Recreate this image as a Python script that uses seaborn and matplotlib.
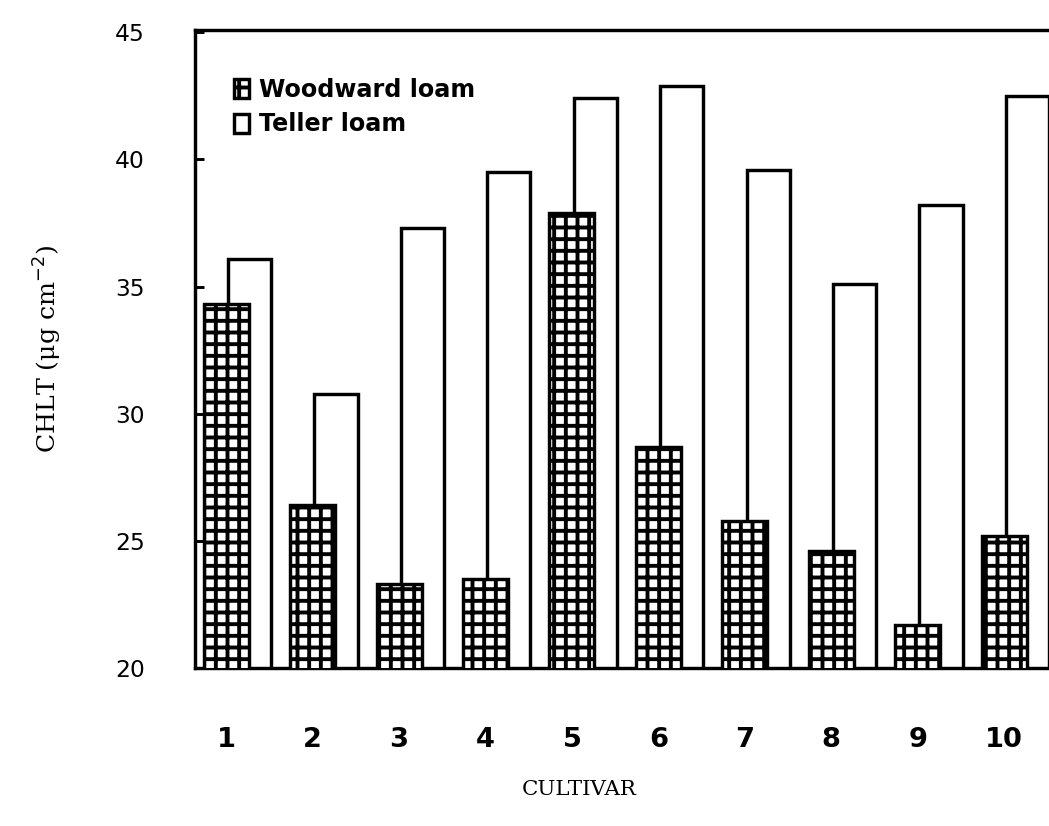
import matplotlib
matplotlib.use("Agg")
import matplotlib.pyplot as plt
import numpy as np
import seaborn as sns

cultivars = np.arange(1, 11)
cultivar_labels = [str(c) for c in cultivars]
woodward_loam = [34.3, 26.4, 23.3, 23.5, 37.9, 28.7, 25.8, 24.6, 21.7, 25.2]
teller_loam = [36.1, 30.8, 37.3, 39.5, 42.4, 42.9, 39.6, 35.1, 38.2, 42.5]
y_ticks = [20, 25, 30, 35, 40, 45]

sns.set_style("ticks")
plt.rcParams["font.family"] = ["DejaVu Serif"]
plt.rcParams["hatch.linewidth"] = 4.0
plt.rcParams["text.color"] = "black"
plt.rcParams["axes.labelcolor"] = "black"
plt.rcParams["xtick.color"] = "black"
plt.rcParams["ytick.color"] = "black"
plt.rcParams["axes.edgecolor"] = "black"

DPI = 70
fig = plt.figure(figsize=(1049 / DPI, 826 / DPI), dpi=DPI)
ax = fig.add_axes([0.186, 0.191, 0.814, 0.773])

# Teller bars sit behind and slightly to the right of the Woodward bars
sns.barplot(x=cultivars + 0.27, y=teller_loam, native_scale=True, width=0.5,
            color="white", edgecolor="black", linewidth=3.5,
            label="Teller loam", ax=ax, zorder=2)
sns.barplot(x=cultivars, y=woodward_loam, native_scale=True, width=0.52,
            color="white", edgecolor="black", linewidth=3.5, hatch="+",
            label="Woodward loam", ax=ax, zorder=3)

ax.set_xlim(0.64, 10.52)
ax.set_ylim(20, 45.1)
ax.set_xticks(cultivars)
ax.set_xticklabels(cultivar_labels, fontfamily="DejaVu Sans", fontweight="bold", fontsize=28)
ax.set_yticks(y_ticks)
ax.set_yticklabels([str(t) for t in y_ticks], fontfamily="DejaVu Sans", fontsize=24)
ax.tick_params(axis="x", length=0, pad=60)
ax.tick_params(axis="y", direction="in", length=9, width=3, pad=52)

for side in ["left", "top", "bottom"]:
    ax.spines[side].set_linewidth(3.5)
ax.spines["right"].set_visible(False)

ax.set_ylabel("CHLT (μg cm$^{-2}$)", fontsize=26, labelpad=52)
ax.set_xlabel("CULTIVAR", fontsize=22)
ax.xaxis.set_label_coords(0.45, -0.175)

handles, labels = ax.get_legend_handles_labels()
order = [labels.index("Woodward loam"), labels.index("Teller loam")]
ax.legend([handles[i] for i in order], [labels[i] for i in order],
          loc="upper left", bbox_to_anchor=(0.034, 0.94), frameon=False,
          prop={"family": "DejaVu Sans", "weight": "bold", "size": 24.5},
          handlelength=0.65, handleheight=0.85, handletextpad=0.4,
          labelspacing=0.45, borderaxespad=0)

fig.savefig("out.png", dpi=DPI)
